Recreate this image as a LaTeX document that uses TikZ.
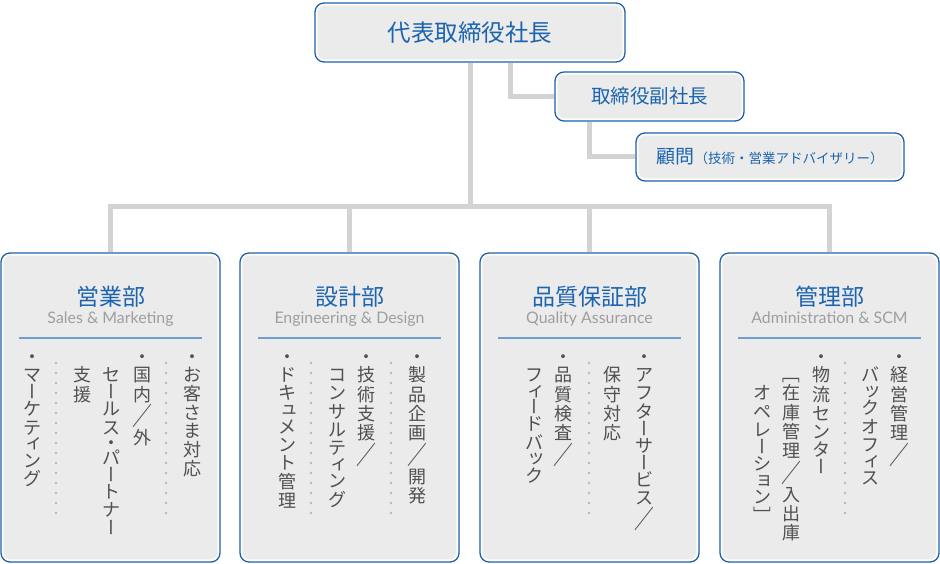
\documentclass[tikz,border=0pt]{standalone}
\usepackage{fontspec}
\newfontfamily\jp{Noto Sans CJK JP}
\newfontfamily\lat{Lato}
\usetikzlibrary{backgrounds}
\definecolor{bdr}{HTML}{1F5FA8}
\definecolor{ttl}{HTML}{1C64B0}
\definecolor{connc}{HTML}{D3D3D3}
\definecolor{boxfill}{HTML}{EBEBEB}
\definecolor{boxedge}{HTML}{F6F6F6}
\definecolor{bodyc}{HTML}{505050}
\definecolor{subc}{HTML}{9E9E9E}
\definecolor{sepc}{HTML}{6F9ED0}
\definecolor{dotc}{HTML}{B8B8B8}

\ExplSyntaxOn
\cs_new_protected:Npn \vcol #1
  {
    \vbox:n
      {
        \offinterlineskip
        \tl_map_inline:nn {#1} { \__vc_char:n {##1} }
      }
  }
\cs_new_protected:Npn \__vc_item:nn #1#2
  {
    \tex_kern:D #1 em \scan_stop:
    \hbox_to_wd:nn { 0pt } { \hss \smash { \box_move_down:nn { .38em } { \hbox:n {#2} } } \hss }
    \tex_kern:D #1 em \scan_stop:
  }
\cs_new_protected:Npn \__vc_rot:n #1
  {
    \rotatebox[origin=c]{-90}
      { \hbox_to_wd:nn { 1em } { \hss \vrule~width~0pt~height~.88em~depth~.12em \relax #1 \hss } }
  }
\cs_new_protected:Npn \__vc_small:n #1
  {
    \box_move_up:nn { .1em } { \hbox:n { \tex_kern:D .24em \scan_stop: #1 } }
  }
\cs_new_protected:Npn \__vc_char:n #1
  {
    \str_case:nnF {#1}
      {
        {ー}{ \__vc_item:nn {0.444}{ \__vc_rot:n {ー} } }
        {［}{ \__vc_item:nn {0.5}{ \__vc_rot:n {［} } }
        {］}{ \__vc_item:nn {0.5}{ \__vc_rot:n {］} } }
        {／}{ \__vc_item:nn {0.667}{ \raisebox{-.15em}{\scalebox{1.1}[1.4]{／}} } }
        {･}{ \__vc_item:nn {0.333}{ ・ } }
        {ッ}{ \__vc_item:nn {0.417}{ \__vc_small:n {ッ} } }
        {ュ}{ \__vc_item:nn {0.417}{ \__vc_small:n {ュ} } }
        {ョ}{ \__vc_item:nn {0.417}{ \__vc_small:n {ョ} } }
        {ィ}{ \__vc_item:nn {0.417}{ \__vc_small:n {ィ} } }
      }
      {
        \int_compare:nNnTF { `#1 } > { "33FF }
          { \__vc_item:nn {0.536}{#1} }
          { \__vc_item:nn {0.508}{#1} }
      }
  }
\ExplSyntaxOff

\begin{document}
\begin{tikzpicture}[x=1pt,y=-1pt,
  orgbox/.style={draw=bdr, line width=1.3pt, rounded corners=9pt, inner sep=0pt, text=ttl},
  innerbox/.style={draw=boxedge, line width=1pt, fill=boxfill, rounded corners=7pt},
  link/.style={draw=connc, line width=5pt},
  colnode/.style={inner sep=0pt, anchor=north, text=bodyc, font=\jp\fontsize{18}{18}\selectfont},
  depttitle/.style={inner sep=0pt, text=ttl, font=\jp\fontsize{23}{23}\selectfont},
  subt/.style={inner sep=0pt, anchor=base, text=subc, font=\lat\fontsize{15.9}{15.9}\selectfont},
  sepline/.style={draw=sepc, line width=2pt},
  dotline/.style={draw=dotc, line width=2.7pt, line cap=round, dash pattern=on 0pt off 10pt}]
\path[use as bounding box] (0,0) rectangle (940,564);

% boxes
\node[orgbox, minimum width=310pt, minimum height=59pt, font=\jp\fontsize{23.5}{23.5}\selectfont] (ceo) at (470,32.5) {代表取締役社長};
\node[orgbox, minimum width=189pt, minimum height=49pt, font=\jp\fontsize{19.5}{19.5}\selectfont] (vp) at (649.5,96.5) {取締役副社長};
\node[orgbox, minimum width=268pt, minimum height=48pt, font=\jp\fontsize{19}{19}\selectfont] (adv) at (770,157) {顧問{\fontsize{13.5}{13.5}\selectfont（技術・営業アドバイザリー）}};
\node[orgbox, minimum width=219pt, minimum height=309pt] (d1) at (110.5,407.5) {};
\node[orgbox, minimum width=219pt, minimum height=309pt] (d2) at (349.5,407.5) {};
\node[orgbox, minimum width=219pt, minimum height=309pt] (d3) at (589.5,407.5) {};
\node[orgbox, minimum width=219pt, minimum height=309pt] (d4) at (829.5,407.5) {};

\begin{scope}[on background layer]
  \coordinate (bar) at (470,207);
  \draw[link] (ceo.south) -- (bar);
  \draw[link] (d1.north) |- (bar) -| (d4.north);
  \draw[link] (d2.north) -- (d2.north |- bar);
  \draw[link] (d3.north) -- (d3.north |- bar);
  \draw[link] ([xshift=40pt]ceo.south) |- (vp.west);
  \draw[link] ([xshift=35pt]vp.south west) |- (adv.west);
  \foreach \n in {ceo,vp,adv,d1,d2,d3,d4}
    \draw[innerbox] ([shift={(3,3)}]\n.north west) rectangle ([shift={(-3,-3)}]\n.south east);
\end{scope}

% department headers
\foreach \d/\t/\s in {d1/営業部/Sales \& Marketing, d2/設計部/Engineering \& Design, d3/品質保証部/Quality Assurance, d4/管理部/Administration \& SCM}{
  \node[depttitle] (t\d) at ([yshift=-44pt]\d.north) {\t};
  \node[subt] (s\d) at ([yshift=-71pt]\d.north) {\s};
  \draw[sepline] ([shift={(19,86)}]\d.north west) -- ([shift={(-19,86)}]\d.north east);
}

% dotted separators
\foreach \x in {166,56,391,311,589,845}
  \draw[dotline] (\x,363) -- (\x,515);

% box 1
\node[colnode] (c11) at (192,347) {\vcol{・お客さま対応}};
\node[colnode] (c12) at (142,347) {\vcol{・国内／外}};
\node[colnode] (c13) at (111,365.3) {\vcol{セールス･パートナー}};
\node[colnode] (c14) at (82,365.3) {\vcol{支援}};
\node[colnode] (c15) at (32,347) {\vcol{・マーケティング}};
% box 2
\node[colnode] (c21) at (417,347) {\vcol{・製品企画／開発}};
\node[colnode] (c22) at (366,347) {\vcol{・技術支援／}};
\node[colnode] (c23) at (337,365.3) {\vcol{コンサルティング}};
\node[colnode] (c24) at (287,347) {\vcol{・ドキュメント管理}};
% box 3
\node[colnode] (c31) at (644,347) {\vcol{・アフターサービス／}};
\node[colnode] (c32) at (612,365.3) {\vcol{保守対応}};
\node[colnode] (c33) at (563,347) {\vcol{・品質検査／}};
\node[colnode] (c34) at (534,365.3) {\vcol{フィードバック}};
% box 4
\node[colnode] (c41) at (899,347) {\vcol{・経営管理／}};
\node[colnode] (c42) at (870,365.3) {\vcol{バックオフィス}};
\node[colnode] (c43) at (821,347) {\vcol{・物流センター}};
\node[colnode] (c44) at (791,365.3) {\vcol{［在庫管理／入出庫}};
\node[colnode] (c45) at (762,383.6) {\vcol{オペレーション］}};
\end{tikzpicture}
\end{document}
